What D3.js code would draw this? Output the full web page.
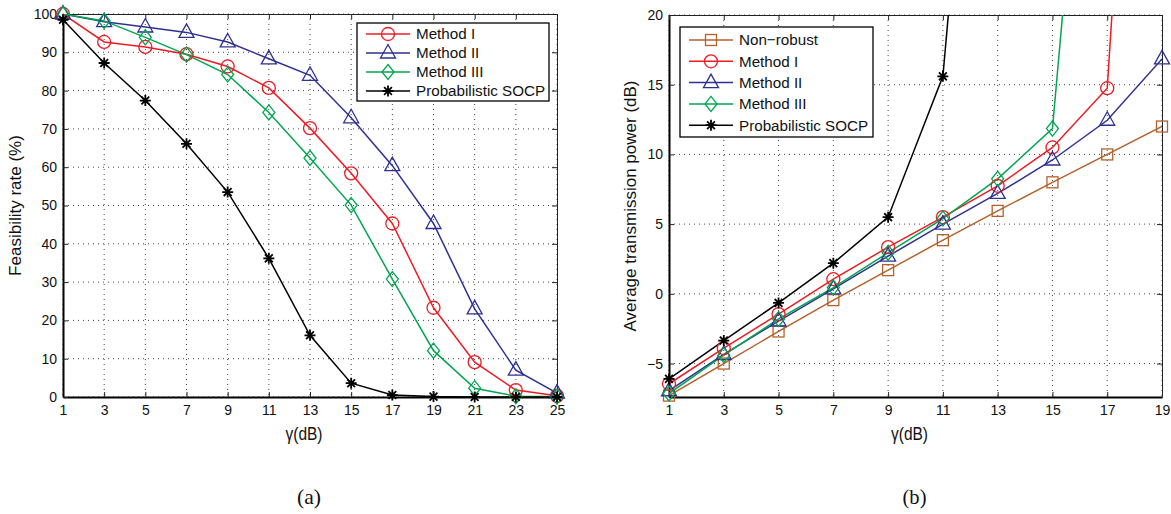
<!DOCTYPE html>
<head>
  <meta charset="utf-8">
  <script src="https://d3js.org/d3.v7.min.js"></script>
  <style>
    body { margin:0; background:#fff; }
    svg { font-family: "Liberation Sans", Arial, sans-serif; }
  </style>
</head>
<body>
<script>
// ---- data (a) ----
var gammaA = [1, 3, 5, 7, 9, 11, 13, 15, 17, 19, 21, 23, 25];
var feasM1 = [100, 92.7, 91.4, 89.5, 86.3, 80.7, 70.2, 58.4, 45.3, 23.3, 9.1, 1.8, 0.3];
var feasM2 = [100, 98.0, 96.6, 95.2, 92.7, 88.3, 84.0, 72.9, 60.4, 45.3, 23.0, 7.0, 1.0];
var feasM3 = [100, 98.2, 93.9, 89.4, 84.2, 74.3, 62.4, 50.1, 30.8, 12.1, 2.3, 0.2, 0.1];
var feasSOCP = [98.5, 87.2, 77.4, 66.1, 53.5, 36.2, 16.1, 3.6, 0.5, 0.1, 0, 0, 0];
var ticksA_x = [1, 3, 5, 7, 9, 11, 13, 15, 17, 19, 21, 23, 25];
var ticksA_y = [0, 10, 20, 30, 40, 50, 60, 70, 80, 90, 100];

// ---- data (b) ----
var gammaB = [1, 3, 5, 7, 9, 11, 13, 15, 17, 19];
var powNonRobust = [-7.3, -5.0, -2.7, -0.45, 1.7, 3.85, 5.95, 8.0, 10.0, 12.0];
var powM1 = [-6.45, -3.9, -1.45, 1.05, 3.35, 5.5, 7.75, 10.5, 14.75, 76];
var powM2 = [-6.95, -4.35, -1.95, 0.35, 2.7, 5.0, 7.2, 9.6, 12.45, 16.85];
var powM3 = [-7.15, -4.4, -1.8, 0.45, 2.95, 5.4, 8.25, 11.85, 56];
var powSOCP = [-6.1, -3.35, -0.65, 2.2, 5.5, 15.6, 60];
var ticksB_x = [1, 3, 5, 7, 9, 11, 13, 15, 17, 19];
var ticksB_y = [-5, 0, 5, 10, 15, 20];

var colRed = "#ED1C24", colBlue = "#2E3192", colGreen = "#00A651",
    colBrown = "#B5612B", colBlack = "#000";

var svg = d3.select("body").append("svg")
  .attr("width", 1171).attr("height", 514);

function marker(g, type, color, x, y) {
  var m = g.append("g").attr("transform", "translate(" + x + "," + y + ")");
  var st = { fill: "none", stroke: color, "stroke-width": 1.3 };
  var el;
  if (type === "circle") el = m.append("circle").attr("r", 6.5);
  else if (type === "triangle") el = m.append("path").attr("d", "M0,-8.5L7.5,5L-7.5,5Z");
  else if (type === "diamond") el = m.append("path").attr("d", "M0,-7.5L6,0L0,7.5L-6,0Z");
  else if (type === "square") el = m.append("rect").attr("x", -5.5).attr("y", -5.5).attr("width", 11).attr("height", 11);
  else {
    el = m.append("path").attr("d", "M0,-5.5V5.5M-5.5,0H5.5M-3.9,-3.9L3.9,3.9M-3.9,3.9L3.9,-3.9");
    st["stroke-width"] = 1.8;
  }
  for (var k in st) el.attr(k, st[k]);
}

function panel(opt) {
  var x = d3.scaleLinear().domain(opt.xd).range([opt.left, opt.right]);
  var y = d3.scaleLinear().domain(opt.yd).range([opt.bottom, opt.top]);
  var g = svg.append("g");
  var clipId = "clip" + opt.id;
  svg.append("clipPath").attr("id", clipId).append("rect")
    .attr("x", opt.left).attr("y", opt.top)
    .attr("width", opt.right - opt.left).attr("height", opt.bottom - opt.top);

  // grid
  g.selectAll(".gx").data(opt.xt).enter().append("line")
    .attr("x1", d => x(d)).attr("x2", d => x(d))
    .attr("y1", opt.top).attr("y2", opt.bottom)
    .attr("stroke", "#444").attr("stroke-width", 1).attr("stroke-dasharray", "1,4");
  g.selectAll(".gy").data(opt.yt).enter().append("line")
    .attr("x1", opt.left).attr("x2", opt.right)
    .attr("y1", d => y(d)).attr("y2", d => y(d))
    .attr("stroke", "#444").attr("stroke-width", 1).attr("stroke-dasharray", "1,4");

  // axes (MATLAB style, ticks inside)
  var ax = d3.axisBottom(x).tickValues(opt.xt).tickSizeInner(-5).tickSizeOuter(0).tickPadding(8);
  var ay = d3.axisLeft(y).tickValues(opt.yt).tickSizeInner(-5).tickSizeOuter(0).tickPadding(6)
    .tickFormat(d => d < 0 ? "\u2212" + Math.abs(d) : d);
  var gxA = g.append("g").attr("transform", "translate(0," + opt.bottom + ")").call(ax);
  var gyA = g.append("g").attr("transform", "translate(" + opt.left + ",0)").call(ay);
  g.append("g").attr("transform", "translate(0," + opt.top + ")")
    .call(d3.axisTop(x).tickValues(opt.xt).tickSizeInner(-5).tickSizeOuter(0).tickFormat(""));
  g.append("g").attr("transform", "translate(" + opt.right + ",0)")
    .call(d3.axisRight(y).tickValues(opt.yt).tickSizeInner(-5).tickSizeOuter(0).tickFormat(""));
  g.selectAll(".domain").attr("stroke", "#222");
  g.selectAll(".tick line").attr("stroke", "#222");
  [gxA, gyA].forEach(a => a.selectAll("text").attr("font-size", 14).attr("fill", "#111")
    .attr("font-family", "Liberation Sans, Arial, sans-serif"));
  gxA.select(".domain").attr("stroke-width", 2).attr("stroke", "#000");
  gyA.select(".domain").attr("stroke-width", 2).attr("stroke", "#000");

  // series
  var line = d3.line().x(d => x(d[0])).y(d => y(d[1]));
  opt.series.forEach(function (s) {
    var pts = s.vals.map((v, i) => [opt.xs[i], v]);
    g.append("path").datum(pts).attr("d", line)
      .attr("fill", "none").attr("stroke", s.color).attr("stroke-width", 1.5)
      .attr("clip-path", "url(#" + clipId + ")");
  });
  opt.series.forEach(function (s) {
    s.vals.forEach(function (v, i) {
      if (v <= opt.yd[1] && v >= opt.yd[0] - 0.5) marker(g, s.type, s.color, x(opt.xs[i]), y(v));
    });
  });

  // labels
  svg.append("text").attr("x", (opt.left + opt.right) / 2 - 6).attr("y", opt.bottom + 43)
    .attr("text-anchor", "middle").attr("font-size", 19)
    .attr("textLength", 37).attr("lengthAdjust", "spacingAndGlyphs")
    .attr("fill", "#111").text("\u03b3(dB)");
  svg.append("text")
    .attr("transform", "translate(" + opt.ylabX + "," + ((opt.top + opt.bottom) / 2) + ") rotate(-90)")
    .attr("text-anchor", "middle").attr("font-size", 17).attr("fill", "#111").text(opt.ylab);
  svg.append("text").attr("x", (opt.left + opt.right) / 2 - 1).attr("y", 504)
    .attr("text-anchor", "middle").attr("font-size", 21)
    .attr("textLength", 24).attr("lengthAdjust", "spacingAndGlyphs")
    .attr("font-family", "Liberation Serif, Times New Roman, serif")
    .attr("fill", "#111").text(opt.sub);

  // legend
  var L = opt.legend;
  g.append("rect").attr("x", L.x).attr("y", L.y).attr("width", L.w).attr("height", L.h)
    .attr("fill", "#fff").attr("stroke", "#000").attr("stroke-width", 1.3);
  opt.series.slice().sort((a, b) => a.lorder - b.lorder).forEach(function (s, i) {
    var yy = L.y + L.first + i * L.step;
    g.append("line").attr("x1", L.x + 9).attr("x2", L.x + 53).attr("y1", yy).attr("y2", yy)
      .attr("stroke", s.color).attr("stroke-width", 1.5);
    marker(g, s.type, s.color, L.x + 31, yy);
    g.append("text").attr("x", L.x + 59).attr("y", yy + 5.3).attr("font-size", 15.2)
      .attr("fill", "#111").text(s.name);
  });
}

panel({
  id: "a", left: 63, right: 557, top: 14, bottom: 397,
  xd: [1, 25], yd: [0, 100], xt: ticksA_x, yt: ticksA_y, xs: gammaA,
  ylab: "Feasibility rate (%)", ylabX: 21, sub: "(a)",
  legend: { x: 357, y: 23, w: 192, h: 78, first: 11, step: 19 },
  series: [
    { name: "Method I", vals: feasM1, color: colRed, type: "circle", lorder: 0 },
    { name: "Method II", vals: feasM2, color: colBlue, type: "triangle", lorder: 1 },
    { name: "Method III", vals: feasM3, color: colGreen, type: "diamond", lorder: 2 },
    { name: "Probabilistic SOCP", vals: feasSOCP, color: colBlack, type: "star", lorder: 3 }
  ]
});

panel({
  id: "b", left: 669, right: 1162, top: 15, bottom: 397,
  xd: [1, 19], yd: [-7.4, 20], xt: ticksB_x, yt: ticksB_y, xs: gammaB,
  ylab: "Average transmission power (dB)", ylabX: 636, sub: "(b)",
  legend: { x: 680, y: 27, w: 193, h: 110, first: 13, step: 21.3 },
  series: [
    { name: "Non\u2212robust", vals: powNonRobust, color: colBrown, type: "square", lorder: 0 },
    { name: "Method I", vals: powM1, color: colRed, type: "circle", lorder: 1 },
    { name: "Method II", vals: powM2, color: colBlue, type: "triangle", lorder: 2 },
    { name: "Method III", vals: powM3, color: colGreen, type: "diamond", lorder: 3 },
    { name: "Probabilistic SOCP", vals: powSOCP, color: colBlack, type: "star", lorder: 4 }
  ]
});
</script>
</body>
